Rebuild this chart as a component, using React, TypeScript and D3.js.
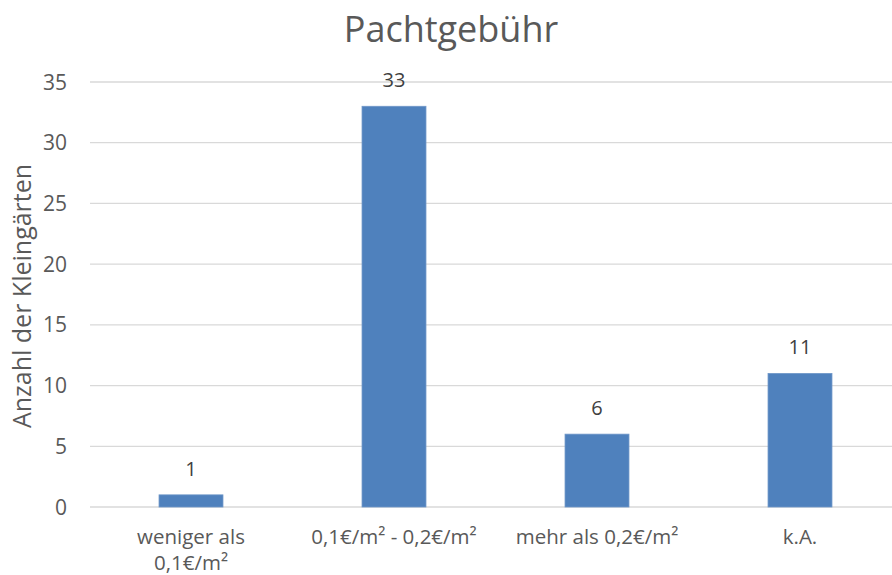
import { useMemo } from 'react';
import * as d3 from 'd3';

const categories: string[][] = [
  ['weniger als', '0,1€/m²'],
  ['0,1€/m² - 0,2€/m²'],
  ['mehr als 0,2€/m²'],
  ['k.A.']
];
const values = [1, 33, 6, 11];
const yTicks = [0, 5, 10, 15, 20, 25, 30, 35];

const W = 892;
const H = 575;
const FONT = '"Open Sans", "Noto Sans", sans-serif';

export default function App() {
  const x = useMemo(
    () =>
      d3
        .scaleBand<number>()
        .domain(categories.map((_, i) => i))
        .range([89.5, 901.5])
        .paddingInner(0.685)
        .paddingOuter(0.3425),
    []
  );
  const y = useMemo(() => d3.scaleLinear().domain([0, 35]).range([507, 82]), []);

  return (
    <svg
      width={W}
      height={H}
      style={{ position: 'absolute', left: 0, top: 0, background: '#fff' }}
      fontFamily={FONT}
    >
      <text x={451} y={42} textAnchor="middle" fontSize={36} fill="#595959">
        Pachtgebühr
      </text>
      {yTicks.map(t => (
        <g key={t}>
          <line x1={90} x2={W} y1={y(t)} y2={y(t)} stroke="#d9d9d9" strokeWidth={1.3} />
          <text x={67} y={y(t)} dy="0.36em" textAnchor="end" fontSize={21} fill="#595959">
            {t}
          </text>
        </g>
      ))}
      <text
        transform={`translate(31, ${296}) rotate(-90)`}
        textAnchor="middle"
        fontSize={25}
        fill="#595959"
      >
        Anzahl der Kleingärten
      </text>
      {values.map((v, i) => {
        const bx = x(i) ?? 0;
        return (
          <g key={i}>
            <rect
              x={bx}
              y={y(v)}
              width={x.bandwidth()}
              height={y(0) - y(v)}
              fill="#4f81bd"
              stroke="#6f97c8"
              strokeWidth={0.8}
            />
            <text
              x={bx + x.bandwidth() / 2}
              y={y(v) - 19}
              textAnchor="middle"
              fontSize={20}
              fill="#404040"
            >
              {v}
            </text>
          </g>
        );
      })}
      {categories.map((lines, i) =>
        lines.map((l, j) => (
          <text
            key={`${i}-${j}`}
            x={(x(i) ?? 0) + x.bandwidth() / 2}
            y={544 + j * 26}
            textAnchor="middle"
            fontSize={20.5}
            fill="#595959"
          >
            {l}
          </text>
        ))
      )}
    </svg>
  );
}
